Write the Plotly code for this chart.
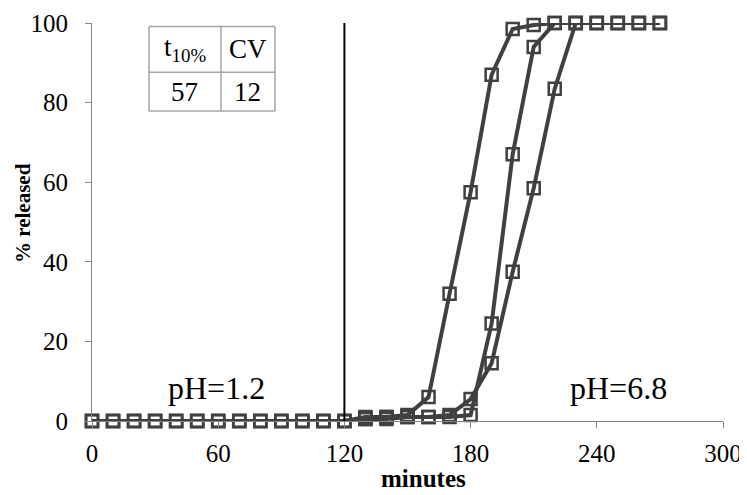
import plotly.graph_objects as go

minutes = list(range(0, 280, 10))
zeros = [0] * 13
series_a = zeros + [1, 1, 1.5, 6, 32, 57.5, 87, 98.5, 99.5, 100, 100, 100, 100, 100, 100]
series_b = zeros + [0.5, 0.5, 1, 1, 1, 1.5, 24.5, 67, 94, 100, 100, 100, 100, 100, 100]
series_c = zeros + [0.5, 1, 1, 1, 1.5, 5.5, 14.5, 37.5, 58.5, 83.5, 100, 100, 100, 100, 100]

x_ticks = [0, 60, 120, 180, 240, 300]
y_ticks = [0, 20, 40, 60, 80, 100]
table_header = ["t<sub>10%</sub>", "CV"]
table_values = ["57", "12"]

LINE = "#404040"
AX = "#868686"
FONT = "Liberation Serif, Times New Roman, serif"

fig = go.Figure()
for s in (series_c, series_b, series_a):
    fig.add_trace(go.Scatter(
        x=minutes, y=s, mode="lines+markers",
        line=dict(color=LINE, width=4),
        marker=dict(symbol="square-open", size=12, color=LINE, line=dict(color=LINE, width=2.5)),
        cliponaxis=False, showlegend=False,
    ))

# vertical pH-change line
fig.add_shape(type="line", xref="x", yref="y", x0=120, x1=120, y0=-2.8, y1=100,
              line=dict(color="black", width=2))

# table
tx = [27.1, 61.3, 87.0]
ty = [99.1, 87.6, 77.9]
tcol = "#a6a6a6"
for yy in ty:
    fig.add_shape(type="line", xref="x", yref="y", x0=tx[0], x1=tx[2], y0=yy, y1=yy,
                  line=dict(color=tcol, width=1.5))
for xx in tx:
    fig.add_shape(type="line", xref="x", yref="y", x0=xx, x1=xx, y0=ty[0], y1=ty[2],
                  line=dict(color=tcol, width=1.5))
for i in range(2):
    cx = (tx[i] + tx[i + 1]) / 2
    fig.add_annotation(x=cx, y=(ty[0] + ty[1]) / 2, xref="x", yref="y", text=table_header[i],
                       showarrow=False, font=dict(family=FONT, size=27, color="black"))
    fig.add_annotation(x=cx, y=(ty[1] + ty[2]) / 2, xref="x", yref="y", text=table_values[i],
                       showarrow=False, font=dict(family=FONT, size=27, color="black"))

fig.add_annotation(x=59, y=8.3, xref="x", yref="y", text="pH=1.2", showarrow=False,
                   font=dict(family=FONT, size=32, color="black"))
fig.add_annotation(x=250.5, y=8.3, xref="x", yref="y", text="pH=6.8", showarrow=False,
                   font=dict(family=FONT, size=32, color="black"))

# axis titles
fig.add_annotation(x=0.5246, y=-0.183, xref="paper", yref="paper", text="<b>minutes</b>",
                   showarrow=False, xanchor="center", yanchor="bottom",
                   font=dict(family=FONT, size=25, color="black"))
fig.add_annotation(x=-0.1094, y=0.5226, xref="paper", yref="paper", text="<b>% released</b>",
                   showarrow=False, textangle=-90, xanchor="center", yanchor="middle",
                   font=dict(family=FONT, size=21, color="black"))

fig.update_layout(
    width=739, height=487,
    margin=dict(l=84, r=24, t=15, b=74),
    paper_bgcolor="white", plot_bgcolor="white",
    font=dict(family=FONT, size=25, color="black"),
    xaxis=dict(range=[0, 300], tickvals=x_ticks, showgrid=False, zeroline=False,
               showline=True, linecolor=AX, linewidth=1, ticks="outside", ticklen=6,
               tickcolor=AX, tickfont=dict(family=FONT, size=25), ticklabelstandoff=4,
               automargin=False),
    yaxis=dict(range=[0, 100], tickvals=y_ticks, showgrid=False, zeroline=False,
               showline=True, linecolor=AX, linewidth=1, ticks="outside", ticklen=6,
               tickcolor=AX, tickfont=dict(family=FONT, size=25), ticklabelstandoff=12,
               automargin=False),
)

fig.write_html("out.html")
